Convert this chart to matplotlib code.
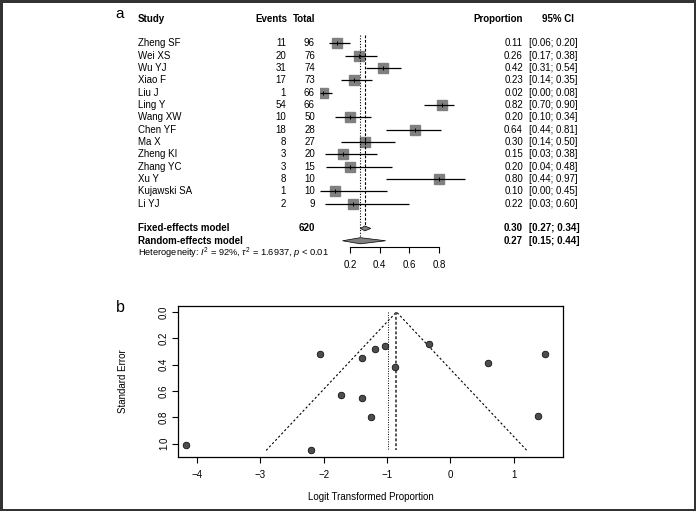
import numpy as np
import matplotlib
matplotlib.use("Agg")
import matplotlib.pyplot as plt
import matplotlib.transforms as mtransforms

plt.rcParams['font.family'] = ['Liberation Sans', 'DejaVu Sans']
plt.rcParams['mathtext.fontset'] = 'custom'
plt.rcParams['mathtext.rm'] = 'Liberation Sans'
plt.rcParams['mathtext.it'] = 'Liberation Sans:italic'

# data
studies = ['Zheng SF', 'Wei XS', 'Wu YJ', 'Xiao F', 'Liu J', 'Ling Y', 'Wang XW',
           'Chen YF', 'Ma X', 'Zheng KI', 'Zhang YC', 'Xu Y', 'Kujawski SA', 'Li YJ']
events = [11, 20, 31, 17, 1, 54, 10, 18, 8, 3, 3, 8, 1, 2]
totals = [96, 76, 74, 73, 66, 66, 50, 28, 27, 20, 15, 10, 10, 9]
prop = [0.11, 0.26, 0.42, 0.23, 0.02, 0.82, 0.20, 0.64, 0.30, 0.15, 0.20, 0.80, 0.10, 0.22]
ci_low = [0.06, 0.17, 0.31, 0.14, 0.00, 0.70, 0.10, 0.44, 0.14, 0.03, 0.04, 0.44, 0.00, 0.03]
ci_high = [0.20, 0.38, 0.54, 0.35, 0.08, 0.90, 0.34, 0.81, 0.50, 0.38, 0.48, 0.97, 0.45, 0.60]

fixed_est, fixed_lo, fixed_hi = 0.30, 0.27, 0.34
random_est, random_lo, random_hi = 0.27, 0.15, 0.44
total_n = 620
forest_ticks = [0.2, 0.4, 0.6, 0.8]

# funnel plot values
logit = [-2.05, -1.03, -0.33, -1.19, -4.17, 1.50, -1.39, 0.59, -0.87, -1.73, -1.39, 1.39, -2.20, -1.25]
se = [0.32, 0.26, 0.24, 0.28, 1.01, 0.32, 0.35, 0.39, 0.42, 0.63, 0.65, 0.79, 1.05, 0.80]
logit_fixed = -0.85
logit_random = -0.99

W, H = 696, 511
fig = plt.figure(figsize=(W / 100, H / 100), dpi=100)
fig.patch.set_edgecolor('#333333')
fig.patch.set_linewidth(2.2)

# ---- panel a: forest plot ----
ax = fig.add_axes([320.2 / W, (H - 290) / H, 148.8 / W, 290 / H])
ax.set_xlim(0, 1)
ax.set_ylim(19.99, -3.51)
ax.patch.set_visible(False)
for s in ['top', 'left', 'right']:
    ax.spines[s].set_visible(False)
ax.spines['bottom'].set_position(('data', 16.48))
ax.spines['bottom'].set_bounds(0.2, 0.8)
ax.spines['bottom'].set_linewidth(0.8)
ax.set_yticks([])
ax.set_xticks(forest_ticks)
ax.set_xticklabels([f'{t:.1f}' for t in forest_ticks], fontsize=7)
ax.tick_params(axis='x', direction='out', length=4, width=0.8, pad=5.5)

rows = np.arange(len(studies))
ax.hlines(rows, ci_low, ci_high, color='black', lw=0.9, zorder=3)
ax.plot(prop, rows, 's', ms=6.8, color='#808080', mec='#808080', zorder=2)
ax.plot(prop, rows, '|', ms=3, color='black', mew=0.7, zorder=4)

ax.vlines(random_est, -0.7, 16, colors='black', linestyles=(0, (1, 1.5)), lw=0.8)
ax.vlines(fixed_est, -0.7, 15, colors='black', linestyles=(0, (2.5, 1.5)), lw=0.8)

ax.fill([fixed_lo, fixed_est, fixed_hi, fixed_est], [15, 14.8, 15, 15.2],
        facecolor='#808080', edgecolor='black', lw=0.5, zorder=3)
ax.fill([random_lo, random_est, random_hi, random_est], [16, 15.75, 16, 16.25],
        facecolor='#808080', edgecolor='black', lw=0.5, zorder=3)

tr = mtransforms.blended_transform_factory(fig.transFigure, ax.transData)
fs = 7
# headers
ax.text(138 / W, -2, 'Study', transform=tr, fontsize=fs, fontweight='bold', va='center')
ax.text(287 / W, -2, 'Events', transform=tr, fontsize=fs, fontweight='bold', va='center', ha='right')
ax.text(315 / W, -2, 'Total', transform=tr, fontsize=fs, fontweight='bold', va='center', ha='right')
ax.text(523 / W, -2, 'Proportion', transform=tr, fontsize=fs, fontweight='bold', va='center', ha='right')
ax.text(558 / W, -2, '95% CI', transform=tr, fontsize=fs, fontweight='bold', va='center', ha='center')

for i, name in enumerate(studies):
    ax.text(138 / W, i, name, transform=tr, fontsize=fs, va='center')
    ax.text(286 / W, i, str(events[i]), transform=tr, fontsize=fs, va='center', ha='right')
    ax.text(315 / W, i, str(totals[i]), transform=tr, fontsize=fs, va='center', ha='right')
    ax.text(523 / W, i, f'{prop[i]:.2f}', transform=tr, fontsize=fs, va='center', ha='right')
    ax.text(529 / W, i, f'[{ci_low[i]:.2f}; {ci_high[i]:.2f}]', transform=tr, fontsize=fs, va='center')

ax.text(138 / W, 15, 'Fixed-effects model', transform=tr, fontsize=fs, fontweight='bold', va='center')
ax.text(315 / W, 15, str(total_n), transform=tr, fontsize=fs, fontweight='bold', va='center', ha='right')
ax.text(523 / W, 15, f'{fixed_est:.2f}', transform=tr, fontsize=fs, fontweight='bold', va='center', ha='right')
ax.text(529 / W, 15, f'[{fixed_lo:.2f}; {fixed_hi:.2f}]', transform=tr, fontsize=fs, fontweight='bold', va='center')
ax.text(138 / W, 16, 'Random-effects model', transform=tr, fontsize=fs, fontweight='bold', va='center')
ax.text(523 / W, 16, f'{random_est:.2f}', transform=tr, fontsize=fs, fontweight='bold', va='center', ha='right')
ax.text(529 / W, 16, f'[{random_lo:.2f}; {random_hi:.2f}]', transform=tr, fontsize=fs, fontweight='bold', va='center')
ax.text(138 / W, 17.05, r'Heterogeneity: $I^2$ = 92%, $\tau^2$ = 1.6937, $p$ < 0.01',
        transform=tr, fontsize=6.7, va='center')

fig.text(120 / W, 1 - 14 / H, 'a', fontsize=11, ha='center', va='center')

# ---- panel b: funnel plot ----
ax2 = fig.add_axes([178 / W, (H - 457) / H, (563 - 178) / W, (457 - 306) / H])
ax2.set_xlim(-4.30, 1.78)
ax2.set_ylim(1.10, -0.045)
ax2.plot(logit, se, 'o', ms=4.8, color='#4d4d4d', mec='black', mew=0.5, zorder=3)

se_max = max(se)
ax2.plot([logit_fixed - 1.96 * se_max, logit_fixed, logit_fixed + 1.96 * se_max],
         [se_max, 0, se_max], color='black', lw=0.8, ls=(0, (2, 2)))
ax2.vlines(logit_random, 0, se_max, colors='black', lw=0.7, linestyles=(0, (1, 1.5)))
ax2.vlines(logit_fixed, 0, se_max, colors='#555555', lw=1.4, linestyles=(0, (1.5, 1)))

ax2.set_xticks([-4, -3, -2, -1, 0, 1])
ax2.set_yticks([0.0, 0.2, 0.4, 0.6, 0.8, 1.0])
ax2.set_yticklabels(['0.0', '0.2', '0.4', '0.6', '0.8', '1.0'], rotation=90, va='center')
ax2.tick_params(labelsize=7, direction='out', length=4, width=0.8)
ax2.tick_params(axis='x', pad=5)
ax2.tick_params(axis='y', pad=2.5)
for s in ax2.spines.values():
    s.set_linewidth(0.9)
ax2.set_xlabel('Logit Transformed Proportion', fontsize=7, labelpad=9)
ax2.set_ylabel('Standard Error', fontsize=7, labelpad=22)

fig.text(120.5 / W, 1 - 307.5 / H, 'b', fontsize=11.5, ha='center', va='center')

fig.savefig('out.png', dpi=100)
